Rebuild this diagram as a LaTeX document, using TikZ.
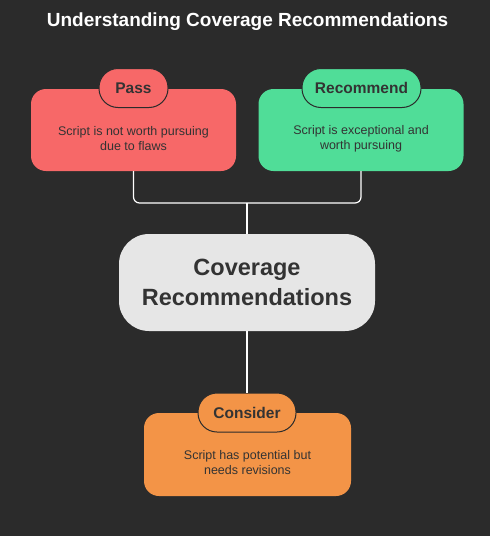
\documentclass[tikz,border=0pt]{standalone}
\usepackage{fontspec}
\setmainfont{Liberation Sans}
\usepackage{tikz}

\definecolor{bggray}{HTML}{2B2B2B}
\definecolor{inkgray}{HTML}{333333}
\definecolor{passred}{HTML}{F76868}
\definecolor{recgreen}{HTML}{50DD98}
\definecolor{coregray}{HTML}{E6E6E6}
\definecolor{conorange}{HTML}{F39447}

\begin{document}
\begin{tikzpicture}[x=1pt, y=-1pt,
  box/.style={minimum width=205pt, minimum height=82pt, rounded corners=15pt, inner sep=0pt},
  tab/.style={draw=bggray, line width=1pt, rounded corners=19pt, minimum height=39pt,
    inner xsep=12pt, text=inkgray, font=\fontsize{15.5}{18}\selectfont\bfseries},
  desc/.style={text=inkgray, align=center, font=\fontsize{12.5}{15}\selectfont},
  link/.style={white, line width=1.2pt}]

\fill[bggray] (0,0) rectangle (490,536);
\useasboundingbox (0,0) rectangle (490,536);

\node[white, font=\fontsize{19}{22}\selectfont\bfseries] (title) at (247.5,22) {Understanding Coverage Recommendations};

% top row
\node[box, fill=passred] (pass) at (133.5,130) {};
\node[desc] (passtxt) at (133.5,138.5) {Script is not worth pursuing\\due to flaws};
\node[tab, fill=passred, minimum width=69pt] (passtab) at (133.5,88) {Pass};

\node[box, fill=recgreen] (rec) at (361,130) {};
\node[desc] (rectxt) at (361,138.5) {Script is exceptional and\\worth pursuing};
\node[tab, fill=recgreen, minimum width=119pt] (rectab) at (361.5,88) {Recommend};

% middle
\node[fill=coregray, minimum width=256pt, minimum height=97pt, rounded corners=30pt,
  align=center, text=inkgray, font=\fontsize{23.5}{30}\selectfont\bfseries] (core) at (247,282.5) {Coverage\\Recommendations};

% bottom
\node[box, fill=conorange, minimum width=207pt, minimum height=83pt] (con) at (247.5,454.5) {};
\node[desc] (context) at (247.5,463) {Script has potential but\\needs revisions};
\node[tab, fill=conorange, minimum width=98pt] (contab) at (247,412.5) {Consider};

% connectors
\coordinate (join) at (247,203);
\draw[link, rounded corners=6pt] (pass.south) |- (join) -| (rec.south);
\draw[link] (join) -- (core.north);
\draw[link] (core.south) -- (contab.north);

\end{tikzpicture}
\end{document}
